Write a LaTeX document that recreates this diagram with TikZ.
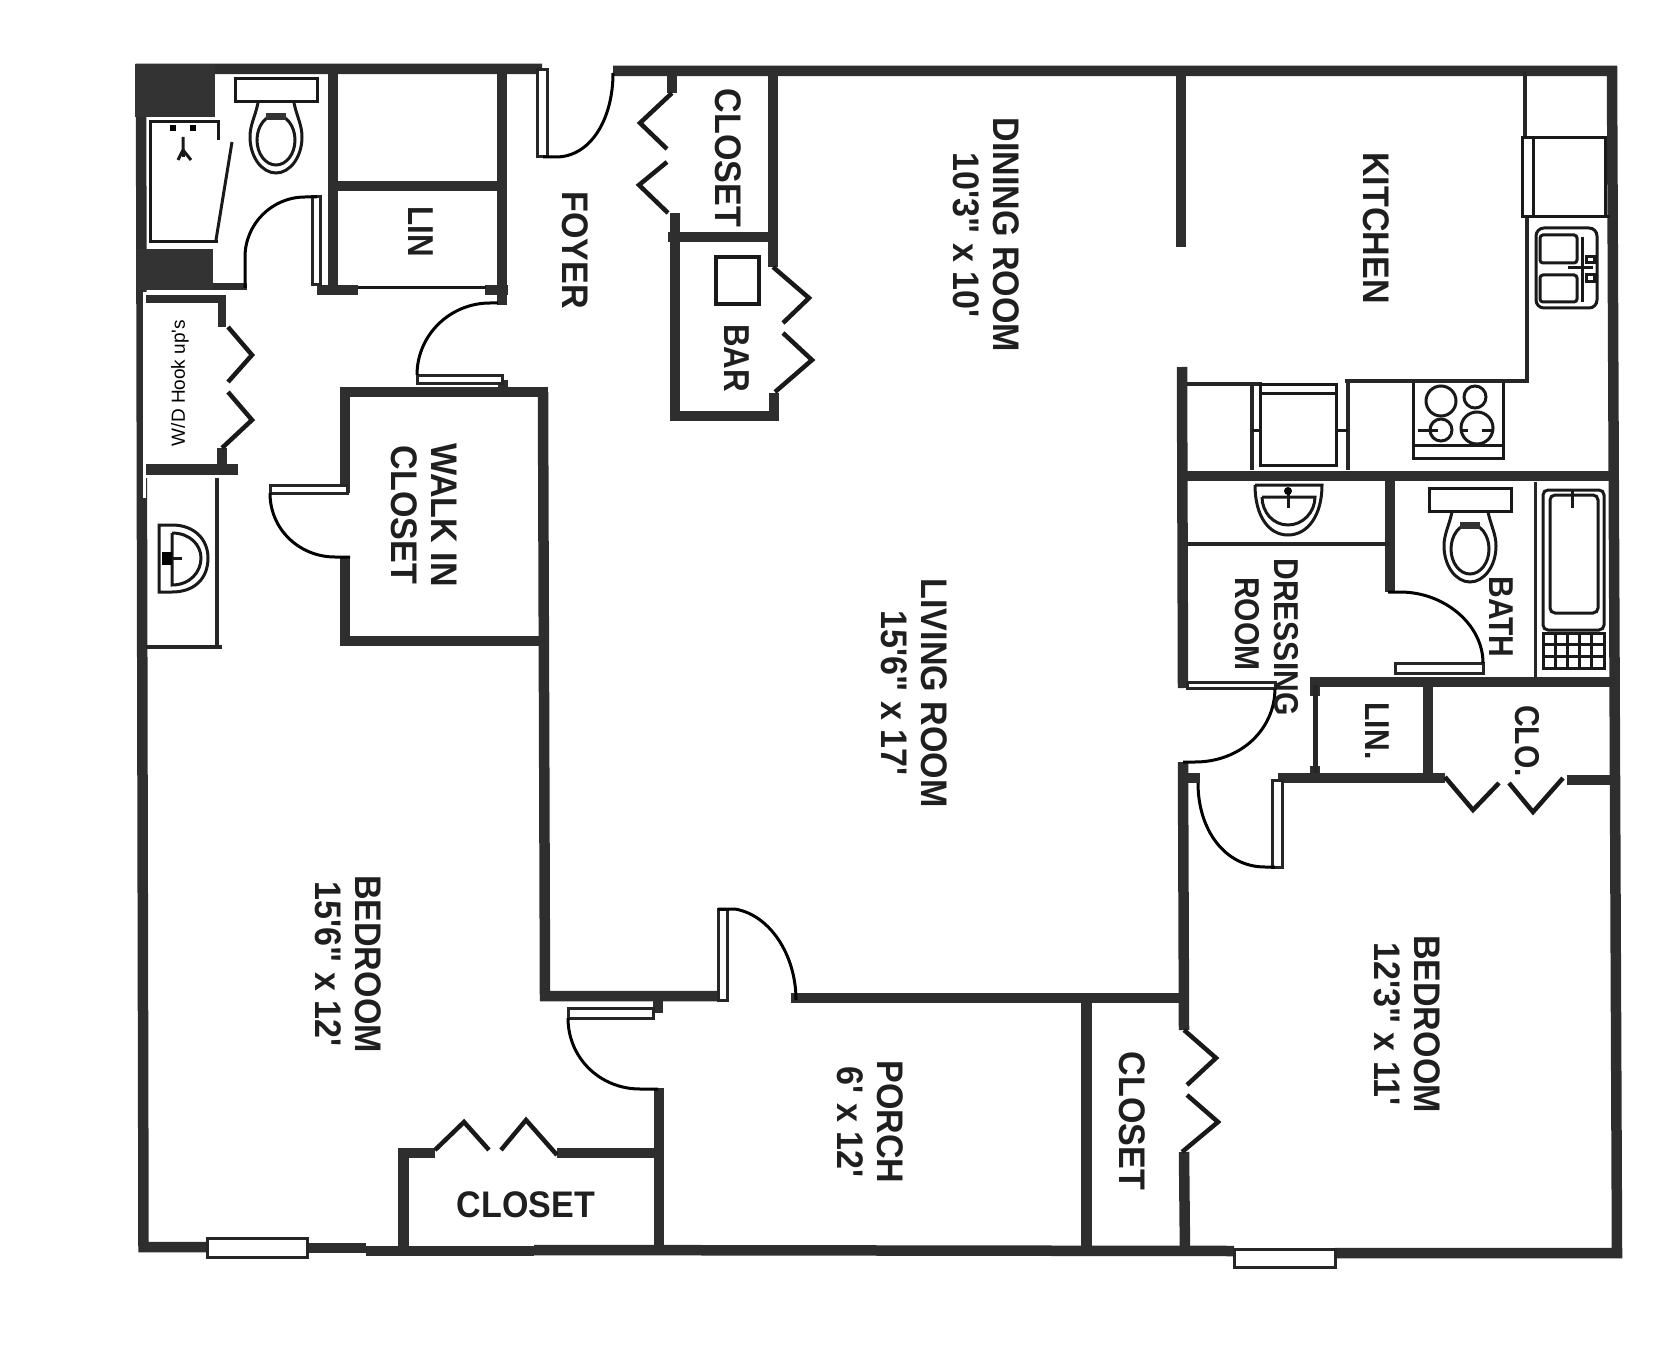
\documentclass[tikz,border=0pt]{standalone}
\usepackage{fontspec}
\newfontfamily\planfont{Liberation Sans}
\newfontfamily\signfont[FakeStretch=0.92]{Liberation Sans}
\newfontfamily\tightfont[FakeStretch=0.87]{Liberation Sans}
\tikzset{
  wall/.style={line width=10.5pt,draw=black!82},
  partition/.style={line width=4.5pt,draw=black!85},
  fixture/.style={line width=3pt,draw=black!90},
  swing/.style={line width=3pt,draw=black},
  leaf/.style={line width=4.5pt,draw=black!90},
  frame/.style={line width=3pt,draw=black!85,fill=white},
  roomlabel/.style={font=\signfont\bfseries\fontsize{37}{40}\selectfont,rotate=-90,align=center,text=black!88,inner sep=0pt},
  smalllabel/.style={font=\tightfont\bfseries\fontsize{34.5}{36}\selectfont,rotate=-90,align=center,text=black!88,inner sep=0pt},
  toilet/.pic={
    \draw[fixture] (-41,0) rectangle (41,23);
    \draw[fixture] (-18,24) .. controls (-21,38) and (-26,46) .. (-26,58) .. controls (-26,78) and (-14,94) .. (0,94) .. controls (14,94) and (26,78) .. (26,58) .. controls (26,46) and (21,38) .. (18,24);
    \draw[fixture] (0,61) ellipse (19pt and 25pt);
    \fill[black!80] (-10,34) rectangle (10,41);
  }
}
\begin{document}
\begin{tikzpicture}[x=1pt,y=-1pt]
  \useasboundingbox (0,0) rectangle (1676,1348);
  % outer walls
  \draw[wall] (542,69) -- (141,69) -- (143.5,1247) -- (207,1247);
  \draw[wall] (307,1248) -- (366,1248);
  \draw[wall] (366,1251) -- (534,1251);
  \draw[wall] (534,1250) -- (1234,1251);
  \draw[wall] (1335,1253) -- (1617,1253) -- (1612,71) -- (613,71);
  % windows
  \draw[frame] (207,1238) rectangle (307,1257);
  \draw[frame] (1234,1249) rectangle (1335,1267);
  % dark blocks beside the shower
  \fill[black!80] (135,64) rectangle (215,117);
  \fill[black!80] (136,249) rectangle (213,290);
  % hall closets and linen
  \draw[wall] (333,68) -- (333,285);
  \draw[wall] (502,68) -- (502,305);
  \draw[wall] (333,186) -- (502,186);
  \draw[wall] (317,290) -- (358,290);
  \draw[wall] (485,290) -- (508,290);
  \draw[fixture] (358,288) -- (486,288);
  \draw[wall,line width=7pt] (213,287) -- (247,287);
  % walk in closet
  \draw[wall] (345,493) -- (345,392) -- (548,392);
  \draw[wall] (345,557) -- (345,641) -- (548,641);
  \draw[wall] (543,392) -- (545,996) -- (720,996);
  \draw[wall] (658,996) -- (658,1013);
  \draw[wall] (503,380) -- (503,392);
  % closet and bar
  \draw[wall] (672,69) -- (672,93);
  \draw[wall] (675,213) -- (675,416) -- (779,416);
  \draw[wall] (668,237) -- (778,237);
  \draw[wall] (773,69) -- (773,267);
  \draw[wall] (774,393) -- (774,416);
  % middle wall, kitchen side
  \draw[wall] (1181,69) -- (1181,247);
  \draw[wall] (1182,367) -- (1183,688);
  \draw[wall] (1183,762) -- (1184,1030);
  \draw[wall] (1184,1152) -- (1185,1253);
  \draw[wall] (1183,778) -- (1200,778);
  \draw[wall] (791,998) -- (1185,998);
  \draw[wall] (1086.5,998) -- (1086.5,1253);
  \draw[wall] (1183,476) -- (1617,476);
  % bath, linen, closet
  \draw[wall] (1390,476) -- (1390,592);
  \draw[wall] (1310,682) -- (1617,682);
  \draw[wall] (1428,682) -- (1428,778);
  \draw[wall] (1278,778) -- (1445,778);
  \draw[wall] (1567,780) -- (1617,780);
  \draw[wall] (1315,682) -- (1315,696);
  \draw[wall] (1315,766) -- (1315,778);
  \draw[partition,line width=5pt] (1315,685) -- (1315,773);
  \draw[partition] (1187,544) -- (1390,544);
  \draw[partition,line width=3pt] (1535,482) -- (1535,677);
  % bedroom closet
  \draw[wall] (403.5,1247) -- (403.5,1153) -- (435,1153);
  \draw[wall] (557,1153) -- (659,1153);
  \draw[wall] (659,1088) -- (659,1250);
  % washer and dryer patch
  \fill[white] (143,292) rectangle (228,477);
  \fill[white] (143,477) rectangle (146,498);
  \draw[wall,line width=8pt] (146,299) -- (222,299) -- (222,327);
  \draw[wall] (222,448) -- (222,469);
  \draw[wall,line width=11pt] (146,469) -- (238,469);
  \fill[white] (146,475) rectangle (222,478);
  \node[font=\planfont\fontsize{19}{22}\selectfont,rotate=90,inner sep=0pt] (hookups) at (180,383) {W/D Hook up's};
  % door frames
  \foreach \xa/\ya/\xb/\yb in {537/70/547/157, 312/197/320/285, 417/375/502/383, 270/485/347/493, 718/909/727/1000, 568/1008/653/1018, 1187/682/1275/688, 1272/780/1282/867, 1395/663/1483/673} {
    \draw[frame] (\xa,\ya) rectangle (\xb,\yb);
  }
  % door swings
  \draw[swing] (543,157) -- (556,157) .. controls (590,157) and (613,120) .. (613,73);
  \draw[swing] (245,288) -- (245,257) .. controls (245,224) and (272,197) .. (305,197) -- (317,197);
  \draw[swing] (417,375) .. controls (417,335) and (450,303) .. (490,303) -- (498,303);
  \draw[swing] (270,493) .. controls (270,530) and (300,557) .. (335,557) -- (350,557);
  \draw[swing] (718,909) -- (735,909) .. controls (770,915) and (796,955) .. (796,1000);
  \draw[swing] (568,1018) .. controls (568,1058) and (600,1089) .. (640,1089) -- (658,1089);
  \draw[swing] (1275,688) .. controls (1275,730) and (1240,762) .. (1195,762) -- (1183,762);
  \draw[swing] (1198,783) .. controls (1198,830) and (1225,867) .. (1265,867) -- (1275,867);
  \draw[swing] (1483,663) .. controls (1483,625) and (1445,592) .. (1400,592) -- (1388,592);
  % folding closet doors
  \foreach \xa/\ya/\xb/\yb/\xc/\yc in {228/327/252/355/228/382, 228/392/252/420/222/448, 672/93/640/123/667/149, 667/162/639/185/668/213, 773/267/809/298/783/323, 783/333/812/360/775/392, 1184/1030/1216/1058/1187/1085, 1187/1095/1218/1122/1182/1152, 1445/777/1473/810/1499/783, 1509/783/1533/812/1563/778, 435/1150/464/1122/489/1150, 501/1150/526/1120/557/1155} {
    \draw[leaf] (\xa,\ya) -- (\xb,\yb) -- (\xc,\yc);
  }
  % shower
  \draw[fixture] (218,140) -- (218,122) -- (150,122) -- (150,242) -- (218,242);
  \draw[fixture] (232,142) -- (216,240);
  \fill (170,125) rectangle (176,131);
  \fill (190,125) rectangle (196,131);
  \draw[fixture] (183,137) -- (183,150) -- (178,160);
  \draw[fixture] (183,150) -- (183,157);
  \draw[fixture] (183,150) -- (191,160);
  % toilets
  \pic at (276,79) {toilet};
  \pic at (1470,488) {toilet};
  % hall sink
  \draw[partition] (217,478) -- (217,647);
  \draw[partition] (146,647) -- (222,647);
  \draw[fixture] (159,592) -- (159,525) -- (172,525) .. controls (195,525) and (208,540) .. (208,558) .. controls (208,578) and (195,592) .. (172,592) -- cycle;
  \draw[fixture] (172,533) -- (172,585) .. controls (190,585) and (201,572) .. (201,558) .. controls (201,545) and (190,533) .. (172,533);
  \fill (162,552) rectangle (172,565);
  \draw[fixture] (172,558) -- (182,558);
  % dressing room sink
  \draw[fixture] (1255,485) -- (1322,485) .. controls (1322,515) and (1308,535) .. (1288,535) .. controls (1268,535) and (1255,515) .. (1255,485);
  \draw[fixture] (1262,497) -- (1315,497) .. controls (1315,512) and (1303,525) .. (1288,525) .. controls (1273,525) and (1262,512) .. (1262,497);
  \draw[fixture] (1288,490) -- (1288,508);
  \fill (1288,491) circle (4pt);
  % tub
  \draw[fixture,rounded corners=5pt] (1543,490) rectangle (1604,630);
  \draw[fixture,rounded corners=5pt] (1550,495) rectangle (1598,613);
  \draw[fixture] (1572,491) -- (1572,508);
  \draw[fixture] (1543,633) rectangle (1604,668);
  \foreach \col in {1,2,3,4} {
    \draw[fixture] (1543+12.2*\col,633) -- (1543+12.2*\col,668);
  }
  \foreach \row in {1,2} {
    \draw[fixture] (1543,633+11.7*\row) -- (1604,633+11.7*\row);
  }
  % kitchen counter
  \draw[partition] (1525,72) -- (1525,138);
  \draw[partition] (1527,217) -- (1527,381) -- (1345,381);
  \draw[partition] (1348,381) -- (1348,470);
  \draw[partition] (1187,384) -- (1262,384);
  \draw[partition] (1252,384) -- (1252,470);
  \draw[fixture] (1522,138) rectangle (1605,217);
  \draw[fixture] (1533,138) -- (1533,217);
  \draw[fixture] (1605,217) -- (1610,217);
  % kitchen sink
  \draw[fixture,rounded corners=8pt] (1536,228) rectangle (1597,308);
  \draw[fixture,rounded corners=3pt] (1540,235) rectangle (1577,263);
  \draw[fixture,rounded corners=3pt] (1540,275) rectangle (1577,302);
  \draw[fixture] (1582,237) -- (1582,302);
  \draw[fixture] (1568,268) -- (1593,268);
  \draw[fixture] (1586,257) rectangle (1594,263);
  \draw[fixture] (1586,275) rectangle (1594,282);
  % stove
  \draw[fixture] (1413,383) -- (1413,458) -- (1503,458) -- (1503,383);
  \draw[fixture] (1413,445) -- (1503,445);
  \foreach \cx/\cy/\rad in {1441/401/15, 1475/397/11, 1441/430/11, 1477/428/16} {
    \draw[fixture] (\cx,\cy) circle (\rad pt);
  }
  \draw[fixture] (1418,430) -- (1438,430);
  \draw[fixture] (1460,430) -- (1468,430);
  \draw[fixture] (1482,430) -- (1493,430);
  % dishwasher
  \draw[fixture] (1260,384) rectangle (1336,465);
  \draw[fixture] (1260,393) -- (1336,393);
  \draw[fixture] (1252,430) -- (1260,430);
  \draw[fixture] (1336,430) -- (1348,430);
  % bar sink
  \draw[fixture,line width=3.5pt] (716,257) rectangle (759,304);
  % room names
  \node[roomlabel] (diningroom) at (986,235) {DINING ROOM\\10'3" x 10'};
  \node[roomlabel] (kitchen) at (1376,228) {KITCHEN};
  \node[roomlabel] (foyer) at (575,250) {FOYER};
  \node[roomlabel] (topcloset) at (728,158) {CLOSET};
  \node[roomlabel,font=\tightfont\bfseries\fontsize{36}{40}\selectfont] (bar) at (737,358) {BAR};
  \node[roomlabel,font=\tightfont\bfseries\fontsize{36}{40}\selectfont] (hallinen) at (421,232) {LIN};
  \node[roomlabel] (walkin) at (424.5,515) {WALK IN\\CLOSET};
  \node[roomlabel] (livingroom) at (914,693) {LIVING ROOM\\15'6" x 17'};
  \node[roomlabel] (bedroomleft) at (348,964) {BEDROOM\\15'6" x 12'};
  \node[roomlabel] (porch) at (870,1122) {PORCH\\6' x 12'};
  \node[roomlabel] (closetright) at (1132,1121) {CLOSET};
  \node[roomlabel,rotate=90] (closetbottom) at (526,1205) {CLOSET};
  \node[roomlabel] (bedroomright) at (1407,1024) {BEDROOM\\12'3" x 11'};
  \node[smalllabel] (dressing) at (1286,637) {DRESSING};
  \node[smalllabel] (dressingroom) at (1247,624) {ROOM};
  \node[smalllabel] (bath) at (1501,617) {BATH};
  \node[smalllabel] (linen) at (1377,731) {LIN.};
  \node[smalllabel] (clo) at (1527,741) {CLO.};
\end{tikzpicture}
\end{document}
